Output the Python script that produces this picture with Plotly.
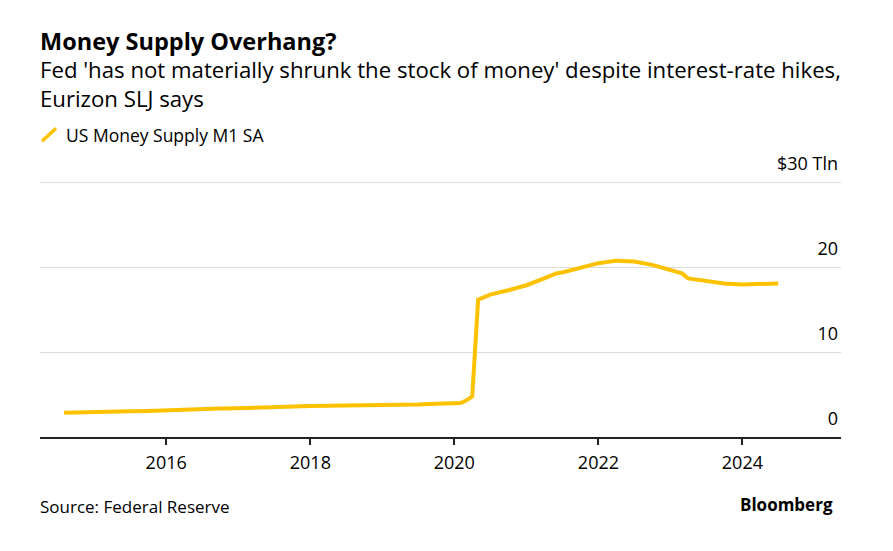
import plotly.graph_objects as go

# ---- data, US Money Supply M1 SA, $ trillions ----
dates = [
    "2014-08-01", "2014-10-01", "2015-01-01", "2015-04-01", "2015-07-01", "2015-10-01",
    "2016-01-01", "2016-04-01", "2016-07-01", "2016-10-01",
    "2017-01-01", "2017-04-01", "2017-07-01", "2017-10-01",
    "2018-01-01", "2018-04-01", "2018-07-01", "2018-10-01",
    "2019-01-01", "2019-04-01", "2019-07-01", "2019-10-01",
    "2020-01-01", "2020-02-01", "2020-03-01", "2020-04-01", "2020-05-01",
    "2020-07-01", "2020-10-01",
    "2021-01-01", "2021-04-01", "2021-06-01", "2021-07-01", "2021-10-01",
    "2022-01-01", "2022-04-01", "2022-07-01", "2022-10-01",
    "2023-01-01", "2023-03-01", "2023-04-01", "2023-07-01", "2023-10-01",
    "2024-01-01", "2024-04-01", "2024-07-01",
]
m1 = [
    2.85, 2.90, 2.97, 3.02, 3.05, 3.08,
    3.12, 3.20, 3.28, 3.35,
    3.40, 3.48, 3.55, 3.62,
    3.66, 3.68, 3.70, 3.73,
    3.76, 3.80, 3.84, 3.92,
    4.00, 4.01, 4.30, 4.80, 16.2,
    16.8, 17.3,
    17.9, 18.7, 19.3, 19.4, 20.0,
    20.5, 20.8, 20.7, 20.3,
    19.7, 19.3, 18.7, 18.4, 18.1,
    18.0, 18.0, 18.1,
]
series_name = "US Money Supply M1 SA"
y_tickvals = [0, 10, 20, 30]
y_ticktext = ["0", "10", "20", "$30 Tln"]
x_tickvals = ["2016-01-01", "2018-01-01", "2020-01-01", "2022-01-01", "2024-01-01"]
x_ticktext = ["2016", "2018", "2020", "2022", "2024"]

title = "Money Supply Overhang?"
subtitle = "Fed 'has not materially shrunk the stock of money' despite interest-rate hikes,<br>Eurizon SLJ says"
source = "Source: Federal Reserve"

# ---- layout geometry (screen px; page body has an 8px margin) ----
OFF = 8
W, H = 893 - OFF, 551 - OFF
PLOT_L, PLOT_R = 40, 841          # screen x of plot area
BASE_Y = 437.5                     # screen y of value 0
PX_PER_UNIT = 8.5
Y_MAX = 35.5
PLOT_TOP = BASE_Y - Y_MAX * PX_PER_UNIT
L = PLOT_L - OFF
R = (W + OFF) - PLOT_R
T = PLOT_TOP - OFF
B = (H + OFF) - BASE_Y
FONT = "Open Sans"
YELLOW = "#FCC200"

def px(x):
    return (x - PLOT_L) / (PLOT_R - PLOT_L)

def py(y):
    return (BASE_Y - y) / (BASE_Y - PLOT_TOP)

fig = go.Figure()
fig.add_trace(go.Scatter(
    x=dates, y=m1, mode="lines", name=series_name,
    line=dict(color=YELLOW, width=4), showlegend=False,
    hoverinfo="x+y",
))

def note(text, x, y, size, anchor="left", bold=False):
    return dict(text=("<b>%s</b>" % text) if bold else text, x=px(x), y=py(y),
                xref="paper", yref="paper", xanchor=anchor, yanchor="middle",
                showarrow=False, align="left", borderpad=0,
                font=dict(family=FONT, size=size, color="#000000"))

annotations = [
    note(title, 39, 41, 23.5, bold=True),
    note(subtitle, 39, 84, 22.2),
    note(series_name, 65, 135, 17.5),
    note(source, 39, 507, 17),
    note("Bloomberg", 834, 505, 17, anchor="right", bold=True),
]

shapes = [
    dict(type="line", xref="paper", yref="paper",
         x0=px(42), y0=py(141), x1=px(56), y1=py(128),
         line=dict(color=YELLOW, width=3.5)),
]

fig.update_layout(
    width=W, height=H,
    margin=dict(l=L, r=R, t=T, b=B, pad=0),
    paper_bgcolor="white", plot_bgcolor="white",
    font=dict(family=FONT, size=16, color="#000000"),
    annotations=annotations, shapes=shapes,
    showlegend=False,
    xaxis=dict(
        type="date", range=["2014-04-01", "2025-05-15"],
        tickvals=x_tickvals, ticktext=x_ticktext,
        showgrid=False, zeroline=False,
        showline=True, linecolor="#222222", linewidth=1.5,
        ticks="outside", ticklen=6, tickwidth=1.5, tickcolor="#222222",
        tickfont=dict(family=FONT, size=18, color="#000000"),
        ticklabelstandoff=3,
    ),
    yaxis=dict(
        side="right", range=[0, Y_MAX],
        tickvals=y_tickvals, ticktext=y_ticktext,
        showgrid=True, gridcolor="#dcdcdc", gridwidth=1,
        zeroline=False, showline=False, ticks="",
        ticklabelposition="inside top", ticklabelshift=-6,
        tickfont=dict(family=FONT, size=18, color="#000000"),
    ),
)

fig.write_html("out.html")
